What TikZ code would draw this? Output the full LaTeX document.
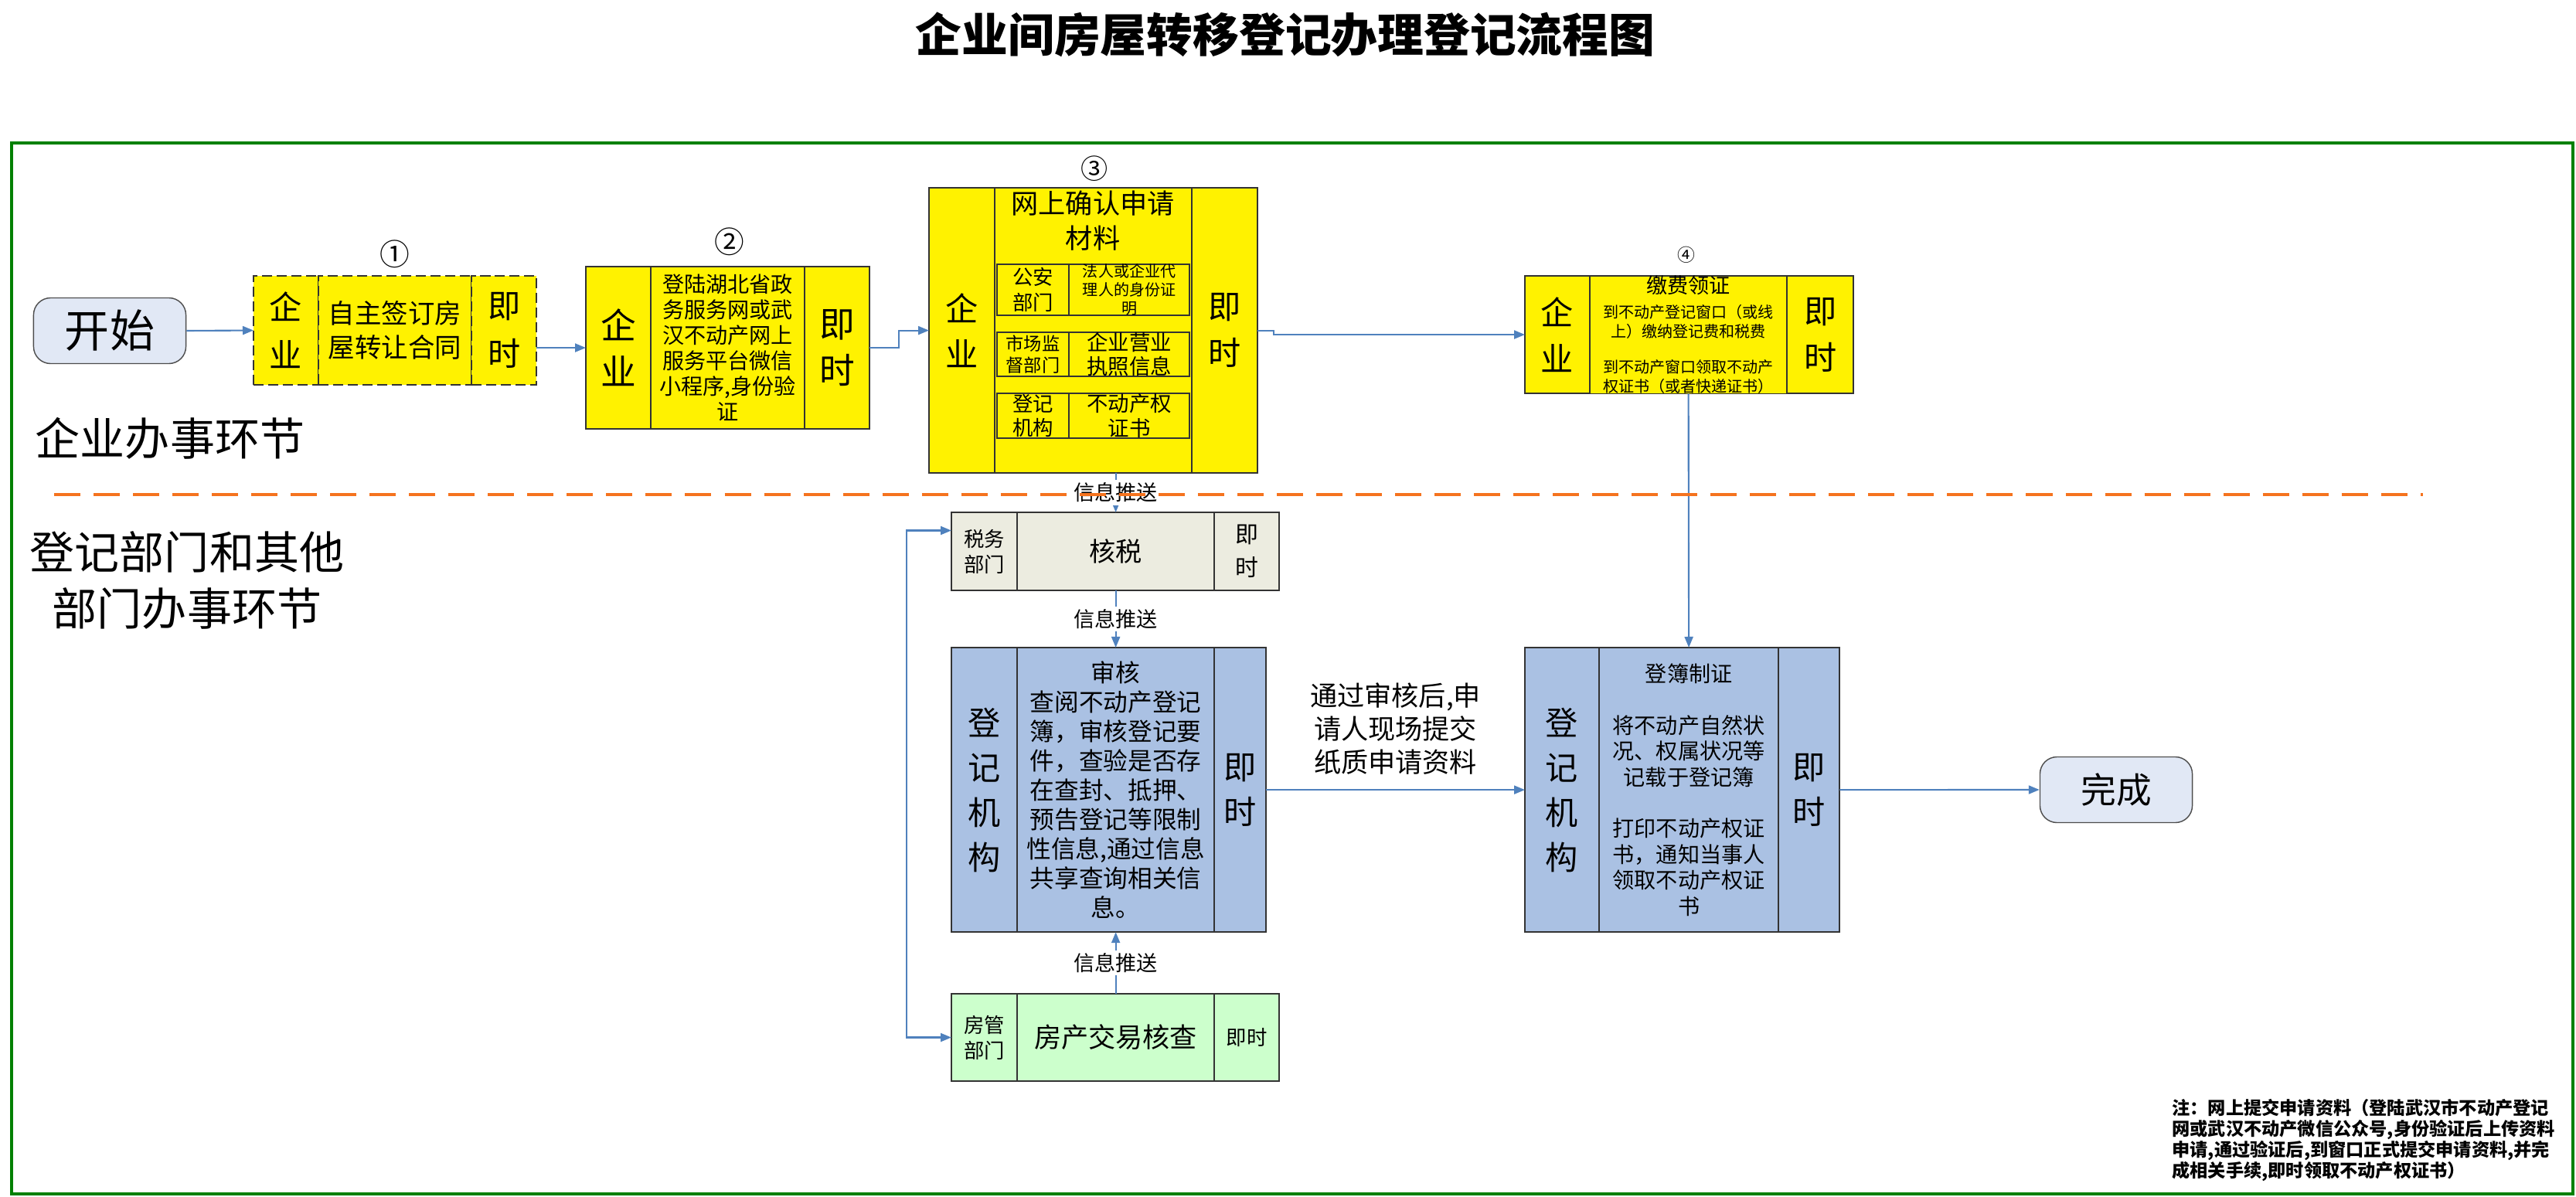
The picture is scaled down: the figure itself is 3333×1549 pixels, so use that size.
\documentclass[tikz,border=0pt]{standalone}
\usepackage{fontspec}
\setmainfont{Noto Sans CJK SC}
\usetikzlibrary{arrows.meta,positioning}
\usepackage{xcolor}
\definecolor{lineblue}{RGB}{79,129,189}
\definecolor{termfill}{RGB}{225,232,245}
\definecolor{taxfill}{RGB}{236,236,224}
\definecolor{regfill}{RGB}{170,193,227}
\definecolor{housefill}{RGB}{204,255,204}
\definecolor{framegreen}{RGB}{0,128,0}
\definecolor{splitorange}{RGB}{245,115,30}
\newcommand{\setfs}[2]{\fontsize{#1pt}{#2pt}\selectfont}

\tikzset{
  cell/.style={draw=black!80, line width=0.5pt, inner sep=0pt, outer sep=0pt, align=center, anchor=north west},
  ycell/.style={cell, fill=yellow},
  tcell/.style={cell, fill=taxfill},
  bcell/.style={cell, fill=regfill},
  gcell/.style={cell, fill=housefill},
  term/.style={draw=black!70, fill=termfill, rounded corners=0.22cm, minimum width=1.97cm, minimum height=0.85cm, inner sep=0pt},
  arr/.style={draw=lineblue, line width=0.6pt, -{Stealth[length=0.14cm, width=0.11cm, inset=0pt]}},
  push/.style={fill=white, inner sep=1pt, font=\setfs{7.7}{9}},
  big/.style={font=\setfs{12}{17}},
}

\begin{document}
\begin{tikzpicture}[x=0.01cm, y=-0.01cm]
\useasboundingbox (0,0) rectangle (3333,1549);

\node[font=\setfs{17}{20}\bfseries] (title) at (1663,45) {企业间房屋转移登记办理登记流程图};
\draw[framegreen, line width=1.2pt] (15,185) rectangle (3329,1545);

% lanes
\node[font=\setfs{16.5}{20}] (lane1) at (220,567) {企业办事环节};
\node[font=\setfs{16.5}{21}, align=center] (lane2) at (242,751) {登记部门和其他\\部门办事环节};

\node[term, font=\setfs{16.5}{20}] (start) at (142,428) {开始};

% step 1
\node[ycell, dash pattern=on 3.7pt off 1.7pt, minimum width=0.84cm, minimum height=1.41cm, font=\setfs{12}{17.6}] (b1l) at (328,357) {企\\业};
\node[ycell, dash pattern=on 3.7pt off 1.7pt, minimum width=1.98cm, minimum height=1.41cm, font=\setfs{9.8}{12.5}, right=0pt of b1l] (b1m) {自主签订房\\屋转让合同};
\node[ycell, dash pattern=on 3.7pt off 1.7pt, minimum width=0.84cm, minimum height=1.41cm, font=\setfs{12}{17.6}, right=0pt of b1m] (b1r) {即\\时};
\node[font=\setfs{11}{12}] (n1) at (511,329) {①};

% step 2
\node[ycell, minimum width=0.84cm, minimum height=2.10cm, font=\setfs{13}{17}] (b2l) at (758,345) {企\\业};
\node[ycell, minimum width=1.99cm, minimum height=2.10cm, font=\setfs{8}{9.4}, right=0pt of b2l] (b2m) {登陆湖北省政\\务服务网或武\\汉不动产网上\\服务平台微信\\小程序,身份验\\证};
\node[ycell, minimum width=0.84cm, minimum height=2.10cm, font=\setfs{13}{17}, right=0pt of b2m] (b2r) {即\\时};
\node[font=\setfs{11}{12}] (n2) at (944,313) {②};

% step 3
\node[ycell, minimum width=0.85cm, minimum height=3.69cm, big] (b3l) at (1202,243) {企\\业};
\node[ycell, minimum width=2.55cm, minimum height=3.69cm, right=0pt of b3l] (b3m) {};
\node[ycell, minimum width=0.85cm, minimum height=3.69cm, big, right=0pt of b3m] (b3r) {即\\时};
\node[font=\setfs{10}{12}] (n3) at (1416,218) {③};
\node[font=\setfs{10}{12.8}, align=center] (b3head) at (1414,286) {网上确认申请\\材料};
\node[ycell, minimum width=0.93cm, minimum height=0.66cm, font=\setfs{7.5}{9.4}] (r1a) at (1290,342) {公安\\部门};
\node[ycell, minimum width=1.56cm, minimum height=0.66cm, font=\setfs{5.7}{6.8}, right=0pt of r1a] (r1b) {法人或企业代\\理人的身份证\\明};
\node[ycell, minimum width=0.93cm, minimum height=0.57cm, font=\setfs{6.6}{8.2}] (r2a) at (1290,430) {市场监\\督部门};
\node[ycell, minimum width=1.56cm, minimum height=0.57cm, font=\setfs{7.8}{8.8}, right=0pt of r2a] (r2b) {企业营业\\执照信息};
\node[ycell, minimum width=0.93cm, minimum height=0.58cm, font=\setfs{7.5}{9}] (r3a) at (1290,509) {登记\\机构};
\node[ycell, minimum width=1.56cm, minimum height=0.58cm, font=\setfs{7.8}{9}, right=0pt of r3a] (r3b) {不动产权\\证书};

% step 4
\node[ycell, minimum width=0.84cm, minimum height=1.52cm, big] (b4l) at (1973,357) {企\\业};
\node[ycell, minimum width=2.55cm, minimum height=1.52cm, font=\setfs{5.7}{7.1}, right=0pt of b4l] (b4m) {{\setfs{7.7}{9}缴费领证}\\[2pt]到不动产登记窗口（或线\\上）缴纳登记费和税费\\[6pt]到不动产窗口领取不动产\\权证书（或者快递证书）};
\node[ycell, minimum width=0.86cm, minimum height=1.52cm, big, right=0pt of b4m] (b4r) {即\\时};
\node[font=\setfs{6.5}{8}] (n4) at (2182,330) {④};

% tax
\node[tcell, minimum width=0.85cm, minimum height=1.01cm, font=\setfs{7.5}{9.4}] (txl) at (1231,663) {税务\\部门};
\node[tcell, minimum width=2.55cm, minimum height=1.01cm, font=\setfs{9.7}{12}, right=0pt of txl] (txm) {核税};
\node[tcell, minimum width=0.84cm, minimum height=1.01cm, font=\setfs{8.5}{12.3}, right=0pt of txm] (txr) {即\\时};

% audit
\node[bcell, minimum width=0.85cm, minimum height=3.68cm, font=\setfs{12}{16.5}] (aul) at (1231,838) {登\\记\\机\\构};
\node[bcell, minimum width=2.55cm, minimum height=3.68cm, font=\setfs{9}{10.8}, right=0pt of aul] (aum) {审核\\查阅不动产登记\\簿，审核登记要\\件，查验是否存\\在查封、抵押、\\预告登记等限制\\性信息,通过信息\\共享查询相关信\\息。};
\node[bcell, minimum width=0.67cm, minimum height=3.68cm, font=\setfs{12}{16.5}, right=0pt of aum] (aur) {即\\时};

% housing
\node[gcell, minimum width=0.85cm, minimum height=1.13cm, font=\setfs{7.5}{9.4}] (hsl) at (1231,1286) {房管\\部门};
\node[gcell, minimum width=2.55cm, minimum height=1.13cm, font=\setfs{10}{12}, right=0pt of hsl] (hsm) {房产交易核查};
\node[gcell, minimum width=0.84cm, minimum height=1.13cm, font=\setfs{7.5}{9}, right=0pt of hsm] (hsr) {即时};

% registry
\node[bcell, minimum width=0.96cm, minimum height=3.68cm, font=\setfs{12}{16.5}] (rgl) at (1973,838) {登\\记\\机\\构};
\node[bcell, minimum width=2.32cm, minimum height=3.68cm, font=\setfs{8}{9.5}, right=0pt of rgl] (rgm) {登簿制证\\ \\将不动产自然状\\况、权属状况等\\记载于登记簿\\ \\打印不动产权证\\书，通知当事人\\领取不动产权证\\书};
\node[bcell, minimum width=0.79cm, minimum height=3.68cm, font=\setfs{12}{16.5}, right=0pt of rgm] (rgr) {即\\时};

\node[term, font=\setfs{13}{16}] (finish) at (2738,1022) {完成};

% arrows
\draw[arr] (start.east) -- (b1l.west);
\draw[arr] (b1r.east |- b2l.west) -- (b2l.west);
\draw[arr] (b2r.east) -- ++(38,0) |- (b3l.west);
\draw[arr] (b3r.east) -- ++(21,0) |- (b4l.west);
\draw[arr] (b4m.south) -- (rgm.north);
\draw[arr] (txm.north |- b3m.south) -- node[push] {信息推送} (txm.north);
\draw[arr] (txm.south) -- node[push] {信息推送} (aum.north);
\draw[arr] (hsm.north) -- node[push] {信息推送} (aum.south);
\coordinate (split) at (1173,1021);
\draw[arr] (split) |- ([yshift=0.27cm]txl.west);
\draw[arr] (split) |- (hsl.west);
\draw[arr] (aur.east) -- node[above=2pt, font=\setfs{10}{12.2}, align=center] {通过审核后,申\\请人现场提交\\纸质申请资料} (rgl.west);
\draw[arr] (rgr.east) -- (finish.west);

\draw[splitorange, line width=1.1pt, dash pattern=on 0.34cm off 0.17cm] (70,640) -- (3135,640);

\node[anchor=north west, align=left, font=\setfs{6.6}{7.7}\bfseries] (note) at (2798,1410) {注：网上提交申请资料（登陆武汉市不动产登记\\网或武汉不动产微信公众号,身份验证后上传资料\\申请,通过验证后,到窗口正式提交申请资料,并完\\成相关手续,即时领取不动产权证书）};
\end{tikzpicture}
\end{document}
